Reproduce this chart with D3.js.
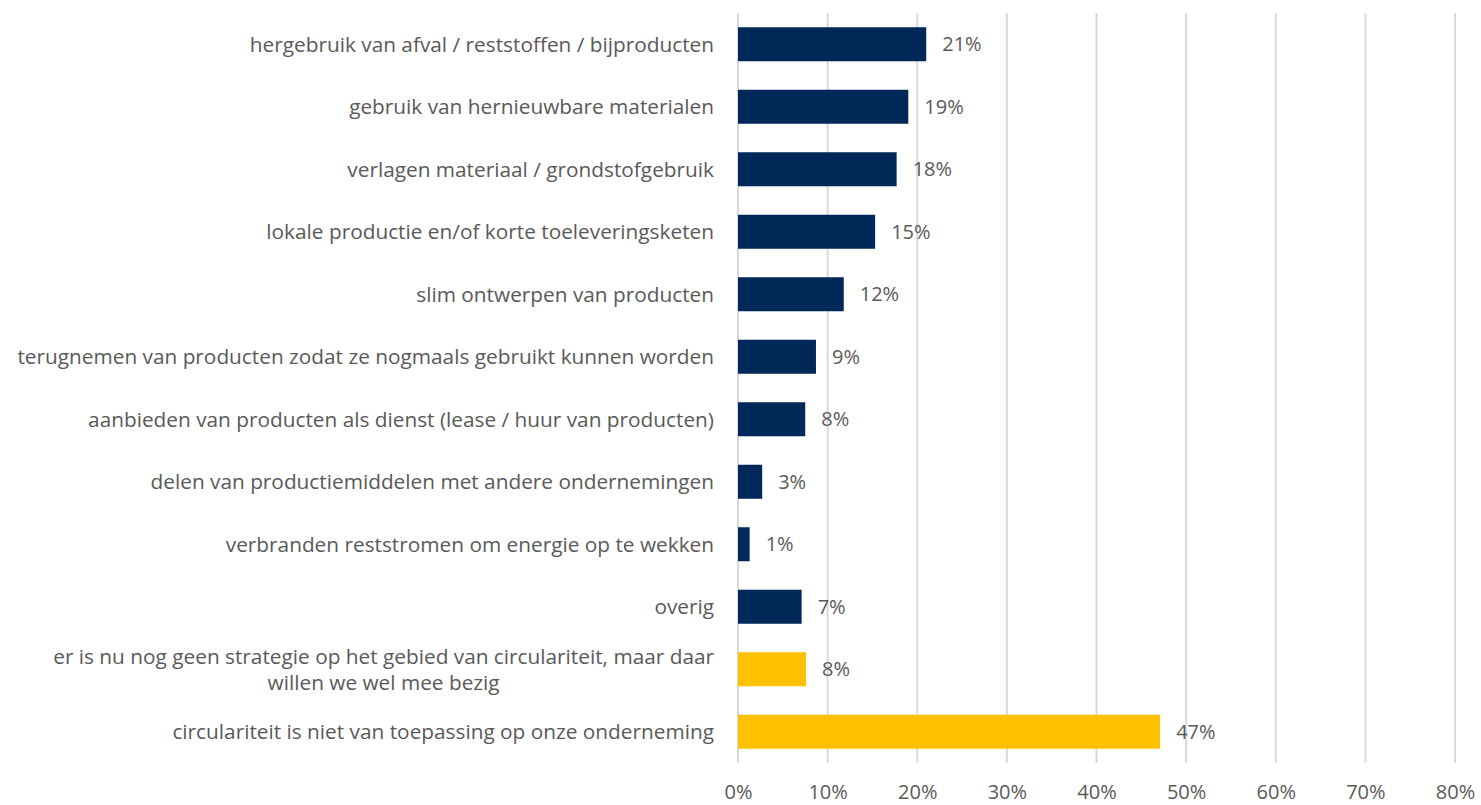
<!DOCTYPE html>
<html>
<head>
<meta charset="utf-8">
<script src="https://cdn.jsdelivr.net/npm/d3@7"></script>
<style>
  body { margin: 0; background: #fff; }
  text { font-family: "Open Sans", sans-serif; fill: #595959; }
</style>
</head>
<body>
<div id="chart"></div>
<script>
// categorieën (van boven naar beneden)
const categories = [
  "hergebruik van afval / reststoffen / bijproducten",
  "gebruik van hernieuwbare materialen",
  "verlagen materiaal / grondstofgebruik",
  "lokale productie en/of korte toeleveringsketen",
  "slim ontwerpen van producten",
  "terugnemen van producten zodat ze nogmaals gebruikt kunnen worden",
  "aanbieden van producten als dienst (lease / huur van producten)",
  "delen van productiemiddelen met andere ondernemingen",
  "verbranden reststromen om energie op te wekken",
  "overig",
  "er is nu nog geen strategie op het gebied van circulariteit, maar daar|willen we wel mee bezig",
  "circulariteit is niet van toepassing op onze onderneming"
];
const values = [21.0, 19.0, 17.7, 15.3, 11.8, 8.7, 7.5, 2.7, 1.3, 7.1, 7.6, 47.1];
const valueLabels = ["21%", "19%", "18%", "15%", "12%", "9%", "8%", "3%", "1%", "7%", "8%", "47%"];
const groups = ["strategie", "strategie", "strategie", "strategie", "strategie", "strategie",
                "strategie", "strategie", "strategie", "strategie", "geen", "geen"];
const ticks = [0, 10, 20, 30, 40, 50, 60, 70, 80];

const W = 1481, H = 805;
const margin = { top: 13, right: 26, bottom: 42, left: 738 };
const width = W - margin.left - margin.right;
const height = H - margin.top - margin.bottom;
const fs = "20.8px";
const fsVal = "20px";

const svg = d3.select("#chart").append("svg")
    .attr("width", W)
    .attr("height", H)
    .append("g")
    .attr("transform", `translate(${margin.left},${margin.top})`);

const x = d3.scaleLinear().domain([0, 80]).range([0, width]);
const y = d3.scaleBand().domain(categories).range([0, height]).paddingInner(0.456).paddingOuter(0.228);
const color = d3.scaleOrdinal().domain(["strategie", "geen"]).range(["#002858", "#FFC000"]);

// rasterlijnen
svg.selectAll(".grid")
    .data(ticks)
    .enter().append("line")
    .attr("x1", d => x(d)).attr("x2", d => x(d))
    .attr("y1", 0).attr("y2", height)
    .attr("stroke", "#d9d9d9")
    .attr("stroke-width", 2);

// x-as
const xAxis = svg.append("g")
    .attr("transform", `translate(0,${height})`)
    .call(d3.axisBottom(x).tickValues(ticks).tickFormat(d => d + "%").tickSize(0).tickPadding(22));
xAxis.select(".domain").remove();
xAxis.selectAll("text").style("font-size", fsVal).style("font-family", "'Open Sans', sans-serif").attr("fill", "#595959");

// balken
svg.selectAll(".bar")
    .data(categories)
    .enter().append("rect")
    .attr("class", "bar")
    .attr("x", x(0))
    .attr("y", d => y(d))
    .attr("width", (d, i) => x(values[i]) - x(0))
    .attr("height", y.bandwidth())
    .attr("fill", (d, i) => color(groups[i]));

// waardelabels
svg.selectAll(".val")
    .data(categories)
    .enter().append("text")
    .attr("x", (d, i) => x(values[i]) + 16)
    .attr("y", d => y(d) + y.bandwidth() / 2)
    .attr("dy", "0.35em")
    .style("font-size", fsVal)
    .text((d, i) => valueLabels[i]);

// categorielabels
svg.selectAll(".cat")
    .data(categories)
    .enter().append("g")
    .each(function (d) {
        const g = d3.select(this);
        const lines = d.split("|");
        const cy = y(d) + y.bandwidth() / 2;
        if (lines.length === 1) {
            g.append("text")
                .attr("x", -24).attr("y", cy).attr("dy", "0.35em")
                .attr("text-anchor", "end")
                .style("font-size", fs)
                .text(lines[0]);
        } else {
            const t1 = g.append("text")
                .attr("x", -24).attr("y", cy - 13).attr("dy", "0.35em")
                .attr("text-anchor", "end")
                .style("font-size", fs)
                .text(lines[0]);
            const w1 = t1.node().getComputedTextLength();
            g.append("text")
                .attr("x", -24 - w1 / 2).attr("y", cy + 13).attr("dy", "0.35em")
                .attr("text-anchor", "middle")
                .style("font-size", fs)
                .text(lines[1]);
        }
    });
</script>
</body>
</html>
